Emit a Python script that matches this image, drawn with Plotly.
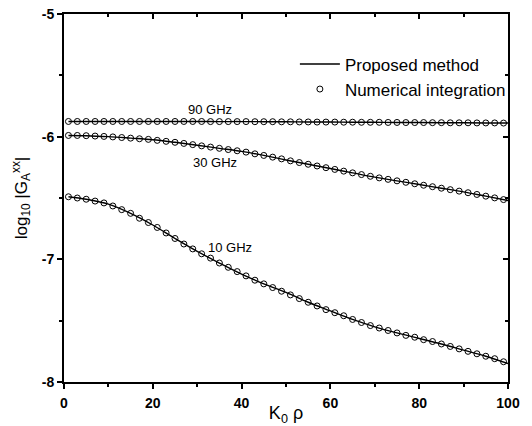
import plotly.graph_objects as go

# ---- data ----
line_x = [1, 5, 10, 15, 20, 25, 30, 35, 40, 45, 50, 55, 60, 65, 70, 75, 80, 85, 90, 95, 100]
line_90 = [-5.876, -5.876, -5.876, -5.876, -5.876, -5.876, -5.876, -5.877, -5.877, -5.878, -5.879,
           -5.880, -5.881, -5.882, -5.883, -5.884, -5.885, -5.886, -5.887, -5.888, -5.889]
line_30 = [-5.99, -5.992, -6.0, -6.012, -6.025, -6.046, -6.07, -6.095, -6.12, -6.153, -6.19,
           -6.225, -6.26, -6.295, -6.33, -6.36, -6.39, -6.42, -6.45, -6.485, -6.52]
line_10 = [-6.49, -6.51, -6.55, -6.625, -6.72, -6.83, -6.935, -7.03, -7.12, -7.20, -7.27,
           -7.35, -7.42, -7.49, -7.55, -7.60, -7.645, -7.69, -7.74, -7.79, -7.85]

num_x = [1, 3, 5, 7, 9, 11, 13, 15, 17, 19, 21, 23, 25, 27, 29, 31, 33, 35, 37, 39,
         41, 43, 45, 47, 49, 51, 53, 55, 57, 59, 61, 63, 65, 67, 69, 71, 73, 75, 77, 79,
         81, 83, 85, 87, 89, 91, 93, 95, 97, 99]
num_90 = [-5.876, -5.876, -5.876, -5.876, -5.876, -5.876, -5.876, -5.876, -5.876, -5.876,
          -5.876, -5.876, -5.876, -5.876, -5.876, -5.876, -5.877, -5.877, -5.877, -5.877,
          -5.877, -5.878, -5.878, -5.878, -5.879, -5.879, -5.880, -5.880, -5.881, -5.881,
          -5.881, -5.882, -5.882, -5.883, -5.883, -5.883, -5.884, -5.884, -5.885, -5.885,
          -5.885, -5.886, -5.886, -5.887, -5.887, -5.887, -5.888, -5.888, -5.888, -5.889]
num_30 = [-5.99, -5.99, -5.992, -5.995, -5.998, -6.002, -6.007, -6.012, -6.017, -6.022,
          -6.03, -6.038, -6.046, -6.055, -6.065, -6.075, -6.085, -6.095, -6.105, -6.115,
          -6.126, -6.14, -6.153, -6.167, -6.181, -6.197, -6.211, -6.225, -6.239, -6.253,
          -6.267, -6.281, -6.295, -6.309, -6.323, -6.336, -6.348, -6.36, -6.372, -6.384,
          -6.396, -6.408, -6.42, -6.432, -6.444, -6.457, -6.471, -6.485, -6.499, -6.513]
num_10 = [-6.49, -6.50, -6.51, -6.525, -6.54, -6.565, -6.595, -6.625, -6.665, -6.70,
          -6.74, -6.785, -6.83, -6.875, -6.915, -6.955, -6.99, -7.03, -7.065, -7.10,
          -7.135, -7.17, -7.20, -7.23, -7.26, -7.29, -7.32, -7.35, -7.38, -7.41,
          -7.435, -7.46, -7.49, -7.515, -7.54, -7.56, -7.58, -7.60, -7.62, -7.635,
          -7.655, -7.67, -7.69, -7.71, -7.73, -7.75, -7.77, -7.79, -7.81, -7.835]

x_ticks = [0, 20, 40, 60, 80, 100]
x_ticktext = ["0", "20", "40", "60", "80", "100"]
y_ticks = [-8, -7, -6, -5]
y_ticktext = ["-8", "-7", "-6", "-5"]

labels = ["90 GHz", "30 GHz", "10 GHz"]
label_x = [32.9, 34.0, 37.4]
label_y = [-5.78, -6.214, -6.90]

FONT = "Arial, Liberation Sans, sans-serif"

fig = go.Figure()
for i, ly in enumerate([line_90, line_30, line_10]):
    fig.add_trace(go.Scatter(
        x=line_x, y=ly, mode="lines", line=dict(color="black", width=1.4, shape="spline"),
        name="Proposed method", legendgroup="p", showlegend=(i == 0)))
for i, ny in enumerate([num_90, num_30, num_10]):
    fig.add_trace(go.Scatter(
        x=num_x, y=ny, mode="markers",
        marker=dict(symbol="circle-open", size=6, color="black", line=dict(width=1)),
        name="Numerical integration", legendgroup="n", showlegend=(i == 0)))

# invisible trace to anchor the mirrored top/right axes
fig.add_trace(go.Scatter(x=[0], y=[-5], xaxis="x2", yaxis="y2", mode="markers",
                         marker=dict(opacity=0), showlegend=False, hoverinfo="skip"))

for t, x, y in zip(labels, label_x, label_y):
    fig.add_annotation(x=x, y=y, text=t, showarrow=False,
                       font=dict(family=FONT, size=13, color="black"))

axis_common = dict(showgrid=False, zeroline=False, showline=True, linecolor="black",
                   linewidth=2, tickcolor="black", tickwidth=1.5, automargin=False)

fig.update_layout(
    width=532, height=426,
    margin=dict(l=64, r=24, t=14, b=44),
    paper_bgcolor="white", plot_bgcolor="white",
    font=dict(family=FONT, color="black"),
    xaxis=dict(range=[0, 100], tickvals=x_ticks, ticktext=[f"<b>{t}</b>" for t in x_ticktext],
               ticks="outside", ticklen=5, ticklabelstandoff=2,
               minor=dict(tickvals=[10, 30, 50, 70, 90], ticks="outside", ticklen=3,
                          tickcolor="black", tickwidth=1.5),
               tickfont=dict(size=14, family=FONT),
               title=dict(text="K<sub>0</sub> ρ", font=dict(size=18, family=FONT), standoff=0),
               **axis_common),
    yaxis=dict(range=[-8, -5], tickvals=y_ticks, ticktext=[f"<b>{t}</b>" for t in y_ticktext],
               ticks="outside", ticklen=5,
               minor=dict(tickvals=[-7.5, -6.5, -5.5], ticks="outside", ticklen=3,
                          tickcolor="black", tickwidth=1.5),
               tickfont=dict(size=14, family=FONT),
               title=dict(text="log<sub>10</sub> |G<sub>A</sub><sup>xx</sup>|",
                          font=dict(size=17, family=FONT), standoff=10),
               **axis_common),
    xaxis2=dict(range=[0, 100], overlaying="x", side="top", anchor="y",
                tickvals=x_ticks, ticks="inside", ticklen=5,
                minor=dict(tickvals=[10, 30, 50, 70, 90], ticks="inside", ticklen=3,
                           tickcolor="black", tickwidth=1.5),
                showticklabels=False, **axis_common),
    yaxis2=dict(range=[-8, -5], overlaying="y", side="right", anchor="x",
                tickvals=y_ticks, ticks="inside", ticklen=5,
                minor=dict(tickvals=[-7.5, -6.5, -5.5], ticks="inside", ticklen=3,
                           tickcolor="black", tickwidth=1.5),
                showticklabels=False, **axis_common),
    legend=dict(x=0.52, y=0.912, xanchor="left", yanchor="top",
                bgcolor="rgba(0,0,0,0)", font=dict(size=17, family=FONT),
                itemwidth=40, tracegroupgap=0),
    showlegend=True,
)

fig.write_html("out.html")
